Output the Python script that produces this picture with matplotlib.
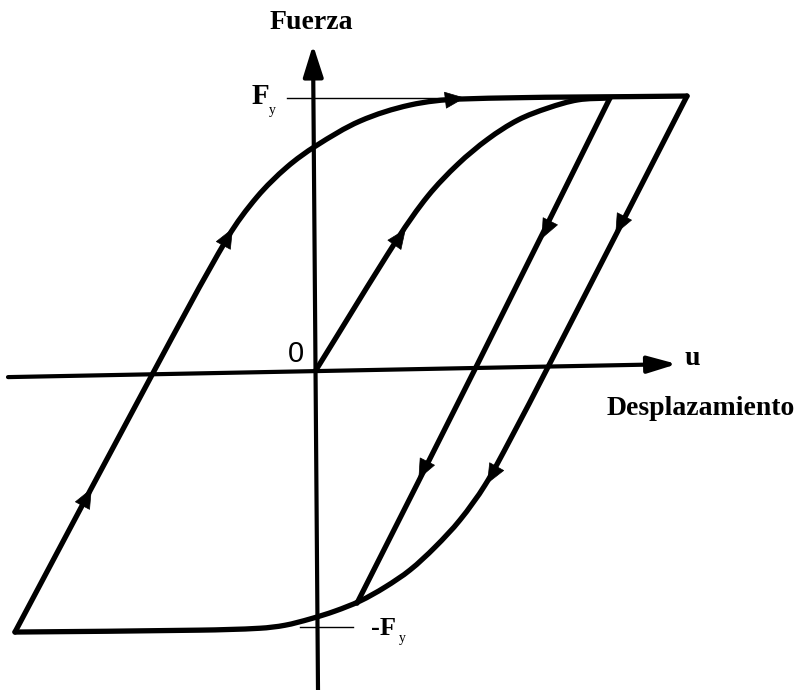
import numpy as np
import matplotlib
matplotlib.use("Agg")
import matplotlib.pyplot as plt
from matplotlib.path import Path
from matplotlib.patches import PathPatch

# Force-displacement hysteresis loop (u in displacement units, F normalised so Fy = 1)

# Outer loop, loading branch: from -Fy corner up to +Fy and along the yield plateau
outer_up_u = [-3.01, -1.63, -0.88, -0.59, -0.29, 0.0, 0.44, 0.94, 1.44, 3.71]
outer_up_F = [-0.963, -0.011, 0.489, 0.636, 0.746, 0.824, 0.915, 0.974, 0.996, 1.007]

# Outer loop, unloading branch: from the top-right corner down to -Fy plateau
outer_down_u = [3.71, 2.32, 1.94, 1.69, 1.44, 1.19, 0.94, 0.69, 0.44, 0.19,
                -0.06, -0.31, -0.56, -1.16, -3.01]
outer_down_F = [1.007, 0.011, -0.257, -0.423, -0.551, -0.651, -0.735, -0.798, -0.849, -0.886,
                -0.915, -0.938, -0.949, -0.956, -0.963]

# Inner (virgin) loading branch from the origin
inner_up_u = [0.0, 0.82, 1.12, 1.42, 1.72, 2.02, 2.32, 2.62, 2.94]
inner_up_F = [0.0, 0.485, 0.640, 0.757, 0.849, 0.919, 0.963, 0.993, 1.0]

# Inner unloading branch, joining the outer curve
inner_down_u = [2.94, 1.61, 0.41]
inner_down_F = [1.0, 0.018, -0.857]

# Direction arrows: (branch, u, F)
arrow_marks = [
    ("outer_up", -2.29, -0.467),
    ("outer_up", -0.88, 0.489),
    ("outer_up", 1.39, 0.996),
    ("inner_up", 0.84, 0.489),
    ("inner_down", 2.30, 0.515),
    ("outer_down", 3.04, 0.533),
    ("inner_down", 1.07, -0.368),
    ("outer_down", 1.76, -0.386),
]

# Axis ends (tilted slightly as drawn)
xaxis_u = [-3.08, 3.61]
xaxis_F = [-0.026, 0.022]
yaxis_u = [0.02, -0.03]
yaxis_F = [-1.176, 1.195]

# Yield level guides
fy_guide_u = [-0.29, 1.5]
fy_guide_F = [1.0, 1.0]
nfy_guide_u = [-0.16, 0.37]
nfy_guide_F = [-0.945, -0.945]

branches = {
    "outer_up": (outer_up_u, outer_up_F),
    "outer_down": (outer_down_u, outer_down_F),
    "inner_up": (inner_up_u, inner_up_F),
    "inner_down": (inner_down_u, inner_down_F),
}

fig = plt.figure(figsize=(8.01, 6.90), dpi=100)
ax = fig.add_axes([0, 0, 1, 1])
ax.set_xlim(-3.16, 4.85)
ax.set_ylim(-1.176, 1.360)
ax.axis("off")


def smooth_path(u, F):
    """Smooth curve through the points (chord-length cubic Hermite, built in
    display space so the shape is metric-correct)."""
    p = ax.transData.transform(np.column_stack([u, F]).astype(float))
    n = len(p)
    d = np.linalg.norm(np.diff(p, axis=0), axis=1)
    tang = np.zeros_like(p)
    for i in range(n):
        if i == 0:
            tang[i] = (p[1] - p[0]) / d[0]
        elif i == n - 1:
            tang[i] = (p[-1] - p[-2]) / d[-1]
        else:
            tang[i] = (p[i + 1] - p[i - 1]) / (d[i - 1] + d[i])
        tang[i] /= np.linalg.norm(tang[i])
    verts = [p[0]]
    codes = [Path.MOVETO]
    for i in range(n - 1):
        h = d[i] / 3.0
        c1 = p[i] + tang[i] * h
        c2 = p[i + 1] - tang[i + 1] * h
        verts += [c1, c2, p[i + 1]]
        codes += [Path.CURVE4] * 3
    verts = ax.transData.inverted().transform(np.array(verts))
    return Path(verts, codes)


LW = 3.8
for name, (u, F) in branches.items():
    ax.add_patch(PathPatch(smooth_path(u, F), facecolor="none", edgecolor="black",
                           lw=LW, capstyle="round", joinstyle="round"))

# yield guides (thin)
ax.plot(fy_guide_u, fy_guide_F, color="black", lw=1.0)
ax.plot(nfy_guide_u, nfy_guide_F, color="black", lw=1.0)


def head(u, F, at, size=18, hl=0.75, hw=0.32):
    pts = ax.transData.transform(np.column_stack([u, F]))
    p = ax.transData.transform(at)
    best, bi = None, 0
    for i in range(len(pts) - 1):
        a, b = pts[i], pts[i + 1]
        ab = b - a
        t = np.clip(np.dot(p - a, ab) / np.dot(ab, ab), 0, 1)
        dd = np.linalg.norm(a + t * ab - p)
        if best is None or dd < best:
            best, bi = dd, i
    v = pts[bi + 1] - pts[bi]
    v = v / np.linalg.norm(v)
    inv = ax.transData.inverted()
    tail = inv.transform(p - v * 10)
    tip = inv.transform(p + v * 10)
    ax.annotate("", xy=tip, xytext=tail,
                arrowprops=dict(arrowstyle=f"-|>,head_length={hl},head_width={hw}",
                                mutation_scale=size, color="black", lw=0.5,
                                shrinkA=0, shrinkB=0))


for name, au, aF in arrow_marks:
    u, F = branches[name]
    head(u, F, (au, aF))

# axes with arrow tips
for (au, aF, hl, hw) in [(xaxis_u, xaxis_F, 1.1, 0.32), (yaxis_u, yaxis_F, 1.2, 0.38)]:
    ax.annotate("", xy=(au[1], aF[1]), xytext=(au[0], aF[0]),
                arrowprops=dict(arrowstyle=f"-|>,head_length={hl},head_width={hw}",
                                mutation_scale=16, color="black", lw=3.0,
                                shrinkA=0, shrinkB=0))

serif_b = dict(family="Liberation Serif", fontweight="bold", color="black")
ax.text(-0.05, 1.279, "Fuerza", fontsize=20, ha="center", va="center", **serif_b)
ax.text(3.76, 0.044, "u", fontsize=20, ha="center", va="center", **serif_b)
ax.text(3.85, -0.140, "Desplazamiento", fontsize=20, ha="center", va="center", **serif_b)
ax.text(-0.20, 0.059, "0", fontsize=21, ha="center", va="center",
        family="Liberation Sans", color="black")

ax.text(-0.56, 1.004, "F", fontsize=21, ha="center", va="center", **serif_b)
ax.text(-0.44, 0.955, "y", fontsize=10, ha="center", va="center",
        family="Liberation Serif", color="black")
ax.text(0.67, -0.949, "-F", fontsize=19, ha="center", va="center", **serif_b)
ax.text(0.86, -0.985, "y", fontsize=10, ha="center", va="center",
        family="Liberation Serif", color="black")

fig.savefig("out.png", dpi=100, facecolor="white")
